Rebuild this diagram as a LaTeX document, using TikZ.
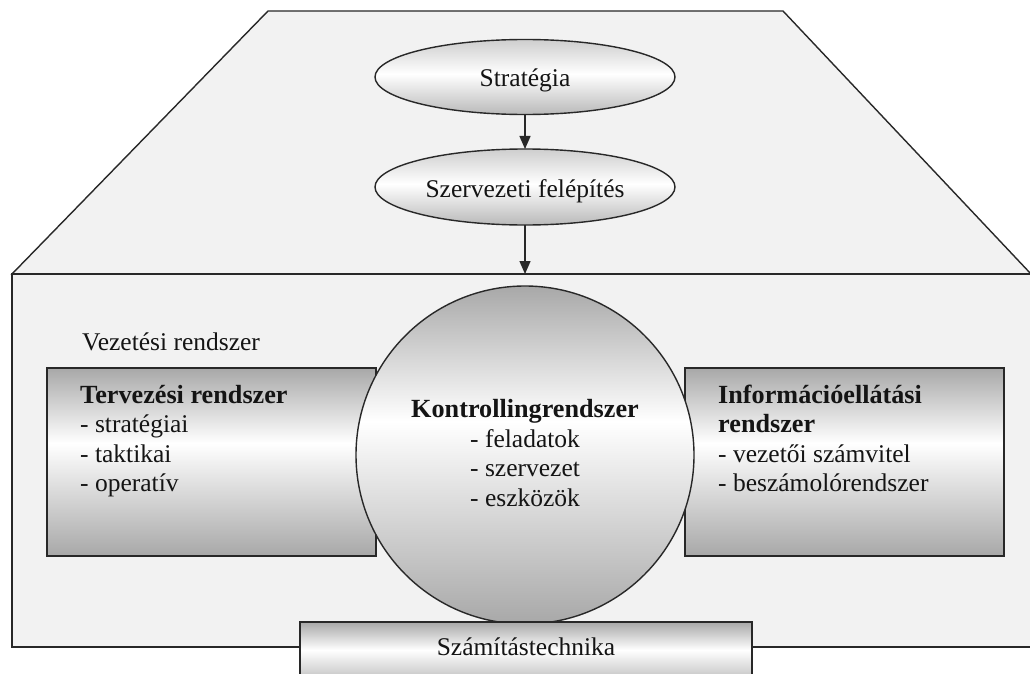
\documentclass[tikz,border=0pt]{standalone}
\usepackage{fontspec}
\setmainfont{Liberation Serif}
\usetikzlibrary{shapes.geometric,arrows.meta}
\definecolor{bgfill}{RGB}{242,242,242}
\definecolor{sg}{RGB}{168,168,168}
\definecolor{eg}{RGB}{185,185,185}
\definecolor{ln}{RGB}{40,40,40}
\definecolor{tx}{RGB}{20,20,20}
\pgfdeclareverticalshading{myshade}{100bp}{color(0bp)=(sg); color(25bp)=(sg); color(55bp)=(white); color(75bp)=(sg); color(100bp)=(sg)}
\pgfdeclareverticalshading{ellshade}{100bp}{color(0bp)=(eg); color(25bp)=(eg); color(52bp)=(white); color(75bp)=(eg!70!white); color(100bp)=(eg!70!white)}
\begin{document}
\begin{tikzpicture}[x=1pt,y=-1pt,
  outline/.style={draw=ln, line width=1.4pt, fill=bgfill, line join=miter},
  shadedbox/.style={rectangle, draw=ln, line width=1.4pt, shade, shading=myshade, inner sep=0pt, outer sep=0pt},
  shadedell/.style={ellipse, draw=ln, line width=1.4pt, shade, shading=ellshade, inner sep=0pt, outer sep=0pt},
  txt/.style={font=\fontsize{25.5}{29}\selectfont, inner sep=0pt, text=tx},
  btxt/.style={txt, font=\fontsize{26.2}{29}\selectfont\bfseries},
  arr/.style={draw=ln, line width=1.4pt, -{Triangle[length=13pt,width=11pt]}}]
\useasboundingbox (0,0) rectangle (1030,674);
\clip (0,0) rectangle (1030,674);
% background shapes
\draw[outline] (12,274) -- (268,11) -- (783,11) -- (1031,274) -- cycle;
\draw[outline] (12,274) rectangle (1045,647);
% boxes
\node[shadedbox, minimum width=329pt, minimum height=188pt, anchor=north west] (tb) at (47,368) {};
\node[shadedbox, minimum width=319pt, minimum height=188pt, anchor=north west] (ib) at (685,368) {};
\node[circle, draw=ln, line width=1.4pt, shade, shading=myshade, minimum size=338pt, inner sep=0pt, outer sep=0pt] (kr) at (525,455) {};
\node[shadedbox, minimum width=452pt, minimum height=70pt, anchor=north west] (sz) at (300,622) {};
% ellipses
\node[shadedell, minimum width=300pt, minimum height=75pt] (st) at (525,77) {};
\node[shadedell, minimum width=300pt, minimum height=76pt] (sf) at (525,187) {};
\coordinate (ae) at (525,274);
\draw[arr] (st) -- (sf);
\draw[arr] (sf) -- (ae);
% texts
\node[txt, anchor=base] (stt) at (525,87) {Stratégia};
\node[txt, anchor=base] (sft) at (525,197) {Szervezeti felépítés};
\node[txt, anchor=base west] (vr) at (82,350) {Vezetési rendszer};
\node[btxt, anchor=base west] (t1) at (80,403) {Tervezési rendszer};
\node[txt, anchor=base west] (t2) at (80,432.5) {- stratégiai};
\node[txt, anchor=base west] (t3) at (80,462) {- taktikai};
\node[txt, anchor=base west] (t4) at (80,491.5) {- operatív};
\node[btxt, anchor=base] (k1) at (525,417) {Kontrollingrendszer};
\node[txt, anchor=base west] (k2) at (470,447) {- feladatok};
\node[txt, anchor=base west] (k3) at (470,476.5) {- szervezet};
\node[txt, anchor=base west] (k4) at (470,506) {- eszközök};
\node[btxt, anchor=base west] (i1) at (718,403) {Információellátási};
\node[btxt, anchor=base west] (i2) at (718,432.5) {rendszer};
\node[txt, anchor=base west] (i3) at (718,462) {- vezetői számvitel};
\node[txt, anchor=base west] (i4) at (718,491.5) {- beszámolórendszer};
\node[txt, anchor=base] (szt) at (526,655) {Számítástechnika};
\end{tikzpicture}
\end{document}
